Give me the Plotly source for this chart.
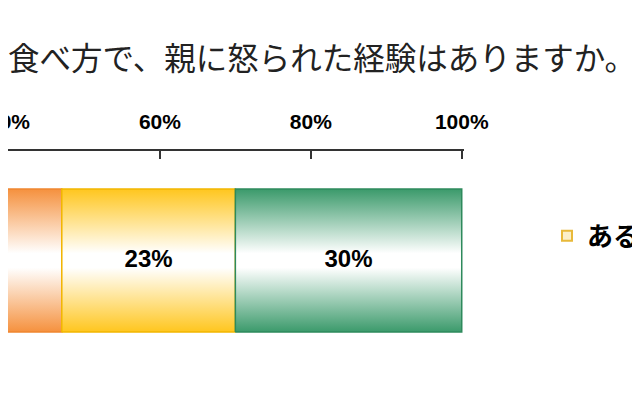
import plotly.graph_objects as go

# question text and answer shares (single stacked bar)
question = "食べ方で、親に怒られた経験はありますか。"
answers = ["よくある", "ある", "ない"]
shares = [47, 23, 30]
tick_vals = [0, 20, 40, 60, 80, 100]
tick_text = ["0%", "20%", "40%", "60%", "80%", "100%"]

colors = ["#F5913E", "#FFC61E", "#3B9A6B"]
edges = ["#EF8630", "#F2B600", "#2E8A5C"]
half = 0.5  # half the bar thickness on the hidden y axis

fig = go.Figure()

left = 0
for name, v, c, e in zip(answers, shares, colors, edges):
    right = left + v
    fig.add_trace(go.Scatter(
        x=[left, right, right, left, left],
        y=[-half, -half, half, half, -half],
        mode="lines", fill="toself",
        line=dict(color=e, width=1.5),
        fillgradient=dict(type="vertical",
                          colorscale=[[0, c], [0.45, "#FFFFFF"], [0.55, "#FFFFFF"], [1, c]]),
        name=name, showlegend=False, hoverinfo="skip"))
    fig.add_trace(go.Scatter(
        x=[left + v / 2], y=[0], mode="text", text=[f"{v}%"],
        textfont=dict(family="Liberation Sans", size=24, color="black", weight="bold"),
        showlegend=False, hoverinfo="skip"))
    left = right

# legend entry (only "ある" is visible in the crop)
fig.add_trace(go.Scatter(
    x=[None], y=[None], mode="markers", name=answers[1],
    marker=dict(symbol="square", size=10, color="#FBEFC8",
                line=dict(color="#E8B93A", width=2))))

fig.update_layout(
    width=640, height=400,
    margin=dict(l=0, r=184, t=143, b=38, autoexpand=False),
    paper_bgcolor="white", plot_bgcolor="white",
    title=dict(text=question, x=0.0, xanchor="left", xref="container",
               y=0.8725, yanchor="middle", yref="container", pad=dict(l=0),
               font=dict(family="Noto Sans CJK JP", size=31.5, color="#222222")),
    xaxis=dict(range=[39.87, 100.3], side="top", tickmode="array",
               tickvals=tick_vals, ticktext=tick_text, automargin=False,
               ticklabeloverflow="allow",
               showgrid=False, zeroline=False, showline=True, linecolor="#333333",
               linewidth=2, ticks="inside", ticklen=8, tickwidth=2, tickcolor="#333333",
               ticklabelstandoff=12,
               tickfont=dict(family="Liberation Sans", size=21, color="black", weight="bold")),
    yaxis=dict(range=[-0.766, 0.766], visible=False, automargin=False),
    legend=dict(x=1.182, y=0.612, xanchor="left", yanchor="middle",
                bgcolor="rgba(0,0,0,0)",
                font=dict(family="Noto Sans CJK JP", size=26, color="black", weight="bold")),
)

fig.write_html("out.html")
